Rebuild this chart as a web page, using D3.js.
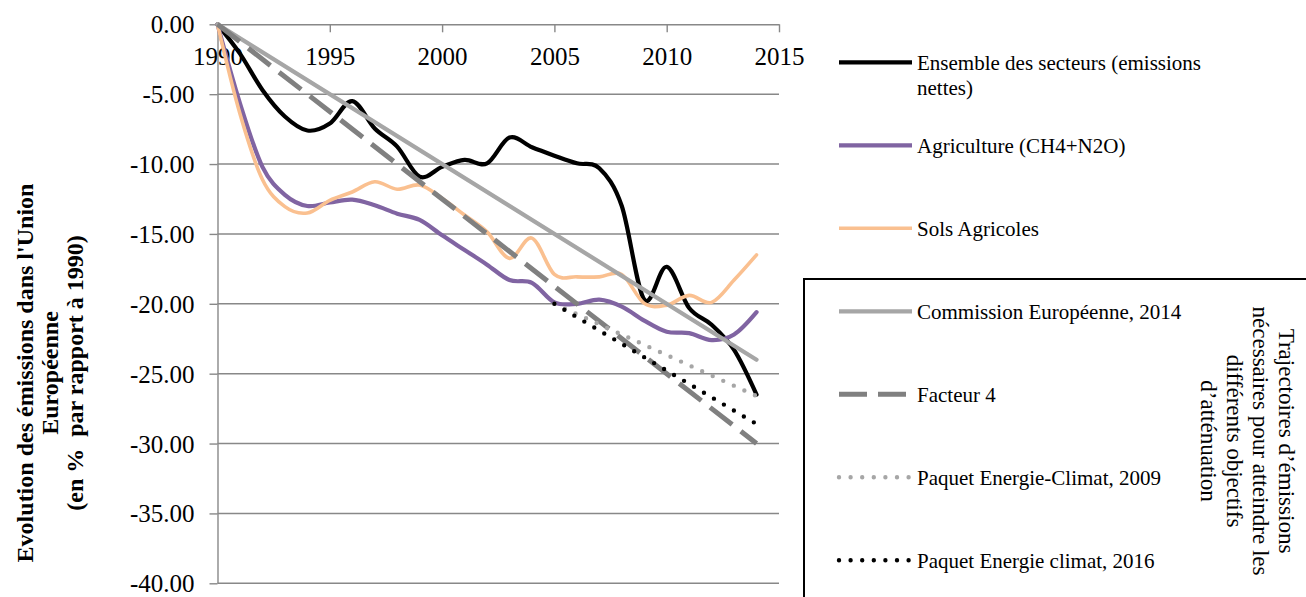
<!DOCTYPE html>
<html>
<head>
<meta charset="utf-8">
<script src="https://cdn.jsdelivr.net/npm/d3@7"></script>
<style>
	html, body { margin: 0; padding: 0; background: #fff; }
	svg { display: block; }
	svg text { font-family: "Liberation Serif", "Times New Roman", serif; }
</style>
</head>
<body>
<svg id="chart" width="1306" height="597"></svg>
<script>
'use strict';

	// Donnees (% par rapport a 1990)
	var arrayYears = [1990,1991,1992,1993,1994,1995,1996,1997,1998,1999,2000,2001,2002,2003,2004,2005,2006,2007,2008,2009,2010,2011,2012,2013,2014];

	var arrayEnsemble = [0,-2.1,-4.7,-6.6,-7.6,-7.1,-5.5,-7.45,-8.75,-10.9,-10.2,-9.7,-9.95,-8.1,-8.8,-9.4,-9.95,-10.3,-13.0,-19.7,-17.35,-20.3,-21.5,-23.3,-26.5];
	var arrayAgriculture = [0,-5.65,-10.2,-12.2,-13.0,-12.75,-12.55,-12.95,-13.55,-14.0,-15.1,-16.15,-17.2,-18.3,-18.5,-19.9,-20.0,-19.7,-20.2,-21.2,-22.0,-22.1,-22.6,-22.2,-20.6];
	var arraySols = [0,-6.4,-11.1,-13.05,-13.5,-12.6,-12.0,-11.27,-11.8,-11.5,-12.45,-13.65,-14.85,-16.75,-15.3,-17.9,-18.07,-18.07,-17.9,-19.97,-20.1,-19.4,-19.9,-18.3,-16.5];

	// Trajectoires
	var arrayCommissionYears = [1990,2014];
	var arrayCommission = [0,-24];
	var arrayFacteur4Years = [1990,2014];
	var arrayFacteur4 = [0,-30];
	var arrayPaquet2009Years = [2005,2014];
	var arrayPaquet2009 = [-20,-26.6];
	var arrayPaquet2016Years = [2005,2014];
	var arrayPaquet2016 = [-20,-28.6];

	var arrayXTicks = [1990,1995,2000,2005,2010,2015];
	var arrayYTicks = [0,-5,-10,-15,-20,-25,-30,-35,-40];

	var arrayLegendLabels = [
		['Ensemble des secteurs (emissions','nettes)'],
		['Agriculture (CH4+N2O)'],
		['Sols Agricoles'],
		['Commission Européenne, 2014'],
		['Facteur 4'],
		['Paquet Energie-Climat, 2009'],
		['Paquet Energie climat, 2016']
	];

	var arrayTitleLeft = ['Evolution des émissions dans l\'Union','Européenne','(en %  par rapport à 1990)'];
	var arrayTitleRight = ['Trajectoires d’émissions','nécessaires pour atteindre les','différents objectifs','d’atténuation'];

	var strFont = '"Liberation Serif", "Times New Roman", serif';

	function Zip(arrayX,arrayY)
	{
		return arrayX.map(function(nX,i) { return [nX,arrayY[i]]; });
	}

	var arraySeries = [
		{ data: Zip(arrayYears,arrayEnsemble), color: '#000000', width: 4.2, dash: null, smooth: true },
		{ data: Zip(arrayYears,arrayAgriculture), color: '#8064A2', width: 4.2, dash: null, smooth: true },
		{ data: Zip(arrayYears,arraySols), color: '#FAC090', width: 3.6, dash: null, smooth: true },
		{ data: Zip(arrayCommissionYears,arrayCommission), color: '#A6A6A6', width: 4.2, dash: null, smooth: false },
		{ data: Zip(arrayFacteur4Years,arrayFacteur4), color: '#808080', width: 5, dash: '28,11', smooth: false },
		{ data: Zip(arrayPaquet2009Years,arrayPaquet2009), color: '#A6A6A6', width: 4.4, dash: '0,11.6', smooth: false, round: true },
		{ data: Zip(arrayPaquet2016Years,arrayPaquet2016), color: '#000000', width: 4.4, dash: '0,11.6', smooth: false, round: true }
	];

	var svg = d3.select('#chart');

	var x = d3.scaleLinear().domain([1990,2015]).range([217.5,779]);
	var y = d3.scaleLinear().domain([-40,0]).range([583.3,24.3]);

	var strGrid = '#888888';

	// gridlines
	svg.append('g')
		.selectAll('line')
		.data(arrayYTicks.filter(function(n) { return n != 0; }))
		.enter()
		.append('line')
			.attr('x1',x(1990))
			.attr('x2',x(2015))
			.attr('y1',function(n) { return y(n); })
			.attr('y2',function(n) { return y(n); })
			.attr('stroke',strGrid)
			.attr('stroke-width',1.4);

	// axe Y
	var gY = svg.append('g')
		.attr('transform','translate('+x(1990)+',0)')
		.call(d3.axisLeft(y)
			.tickValues(arrayYTicks)
			.tickSize(8)
			.tickSizeOuter(0)
			.tickPadding(15)
			.tickFormat(function(n) { return n.toFixed(2); }));

	// axe X (en haut, sur la ligne 0)
	var gX = svg.append('g')
		.attr('transform','translate(0,'+y(0)+')')
		.call(d3.axisBottom(x)
			.tickValues(arrayXTicks)
			.tickSize(8)
			.tickSizeOuter(0)
			.tickPadding(15)
			.tickFormat(d3.format('d')));

	[gX,gY].forEach( function(g)
	{
		g.attr('font-family',strFont).attr('font-size',25);
		g.select('.domain').attr('stroke',strGrid).attr('stroke-width',1.4);
		g.selectAll('.tick line').attr('stroke',strGrid).attr('stroke-width',1.4);
		g.selectAll('.tick text')
			.attr('fill','#000')
			.attr('font-family',strFont)
			.attr('font-size',25);
	});
	gY.selectAll('.tick text').attr('dy','0.34em');

	// series
	arraySeries.forEach( function(arraySerie)
	{
		var line = d3.line()
			.x(function(d) { return x(d[0]); })
			.y(function(d) { return y(d[1]); });
		if (arraySerie.smooth)
		{
			line.curve(d3.curveCardinal.tension(0));
		}
		var path = svg.append('path')
			.datum(arraySerie.data)
			.attr('d',line)
			.attr('fill','none')
			.attr('stroke',arraySerie.color)
			.attr('stroke-width',arraySerie.width)
			.attr('stroke-linejoin','round')
			.attr('stroke-linecap',arraySerie.round ? 'round' : (arraySerie.dash ? 'butt' : 'round'));
		if (arraySerie.dash)
		{
			path.attr('stroke-dasharray',arraySerie.dash);
		}
	});

	// legende
	var nLegendX = 839;
	var nLegendX2 = 912;
	var nLegendTop = 62.3;
	var nLegendStep = 83;

	svg.append('rect')
		.attr('x',804)
		.attr('y',279)
		.attr('width',600)
		.attr('height',400)
		.attr('fill','none')
		.attr('stroke','#000')
		.attr('stroke-width',2);

	arraySeries.forEach( function(arraySerie,i)
	{
		var nY = nLegendTop + i*nLegendStep;
		var sLine = svg.append('line')
			.attr('x1',nLegendX)
			.attr('x2',nLegendX2)
			.attr('y1',nY)
			.attr('y2',nY)
			.attr('stroke',arraySerie.color)
			.attr('stroke-width',arraySerie.width)
			.attr('stroke-linecap',arraySerie.round ? 'round' : 'butt');
		if (arraySerie.dash)
		{
			sLine.attr('stroke-dasharray',arraySerie.dash);
		}
		var sText = svg.append('text')
			.attr('x',917)
			.attr('y',nY+7.5)
			.attr('font-size',21)
			.attr('fill','#000');
		arrayLegendLabels[i].forEach( function(strLine,j)
		{
			sText.append('tspan')
				.attr('x',917)
				.attr('dy',j == 0 ? 0 : 25)
				.text(strLine);
		});
	});

	// titre axe Y
	var sTitleLeft = svg.append('text')
		.attr('transform','translate(33,373) rotate(-90)')
		.attr('text-anchor','middle')
		.attr('font-size',24)
		.attr('font-weight','bold')
		.style('white-space','pre')
		.attr('fill','#000');
	arrayTitleLeft.forEach( function(strLine,j)
	{
		sTitleLeft.append('tspan')
			.attr('x',0)
			.attr('y',j*25)
			.text(strLine);
	});

	// titre trajectoires (a droite)
	var sTitleRight = svg.append('text')
		.attr('transform','translate(1279,441) rotate(90)')
		.attr('text-anchor','middle')
		.attr('font-size',23)
		.attr('fill','#000');
	arrayTitleRight.forEach( function(strLine,j)
	{
		sTitleRight.append('tspan')
			.attr('x',0)
			.attr('y',j*26)
			.text(strLine);
	});
</script>
</body>
</html>
